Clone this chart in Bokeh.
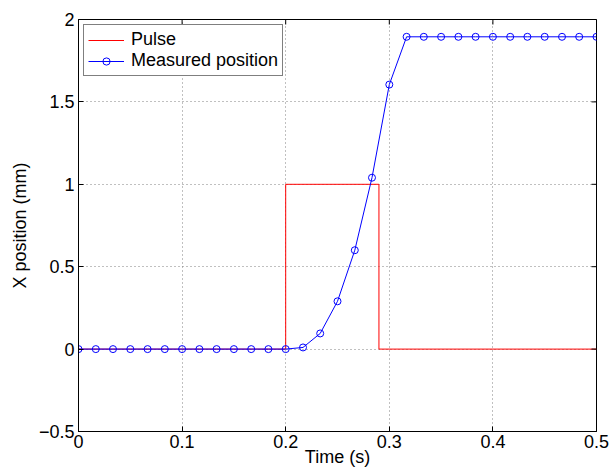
import math
from bokeh.plotting import figure
from bokeh.models import Range1d, FixedTicker, Legend, LegendItem
from bokeh.embed import file_html
from bokeh.resources import INLINE

# ---- data ----
t = [0.0, 0.0167, 0.0333, 0.05, 0.0667, 0.0833, 0.1, 0.1167, 0.1333, 0.15,
     0.1667, 0.1833, 0.2, 0.2167, 0.2333, 0.25, 0.2667, 0.2833, 0.3, 0.3167,
     0.3333, 0.35, 0.3667, 0.3833, 0.4, 0.4167, 0.4333, 0.45, 0.4667, 0.4833, 0.5]
position = [0, 0, 0, 0, 0, 0, 0, 0, 0, 0,
            0, 0, 0, 0.01, 0.095, 0.29, 0.60, 1.04, 1.605, 1.895,
            1.895, 1.895, 1.895, 1.895, 1.895, 1.895, 1.895, 1.895, 1.895, 1.895, 1.895]
pulse_t = [0.0, 0.2, 0.2, 0.29, 0.29, 0.5]
pulse_v = [0, 0, 1, 1, 0, 0]

x_ticks = [0, 0.1, 0.2, 0.3, 0.4, 0.5]
x_tick_labels = ["0", "0.1", "0.2", "0.3", "0.4", "0.5"]
y_ticks = [-0.5, 0, 0.5, 1, 1.5, 2]
y_tick_labels = ["\u22120.5", "0", "0.5", "1", "1.5", "2"]

FONT = "Liberation Sans"
FS = "18px"

p = figure(width=610, height=470, x_range=Range1d(0, 0.5), y_range=Range1d(-0.5, 2),
           output_backend="svg", toolbar_location=None,
           min_border_left=78, min_border_right=14, min_border_top=19, min_border_bottom=39)
p.background_fill_color = "white"
p.border_fill_color = "white"
p.outline_line_color = "black"
p.outline_line_width = 1

def style_axis(ax, ticks, labels):
    ax.ticker = FixedTicker(ticks=ticks)
    ax.major_tick_in = 5
    ax.major_tick_out = 0
    ax.minor_tick_line_color = None
    ax.axis_line_color = "black"
    ax.major_tick_line_color = "black"
    ax.major_label_overrides = {tk: lb for tk, lb in zip(ticks, labels)}
    ax.major_label_text_font = FONT
    ax.major_label_text_font_size = FS
    ax.major_label_text_color = "black"
    ax.axis_label_text_font = FONT
    ax.axis_label_text_font_size = FS
    ax.axis_label_text_font_style = "normal"
    ax.axis_label_text_color = "black"

style_axis(p.xaxis[0], x_ticks, x_tick_labels)
style_axis(p.yaxis[0], y_ticks, y_tick_labels)
p.xaxis[0].axis_label = "Time (s)"
p.yaxis[0].axis_label = "X position (mm)"
p.xaxis[0].major_label_standoff = 3
p.xaxis[0].axis_label_standoff = -4
p.yaxis[0].major_label_standoff = 4
p.yaxis[0].axis_label_standoff = 6

p.xgrid.ticker = FixedTicker(ticks=x_ticks)
p.ygrid.ticker = FixedTicker(ticks=y_ticks)
for g in (p.xgrid[0], p.ygrid[0]):
    g.grid_line_color = "#808080"
    g.grid_line_dash = "1 3"
    g.grid_line_width = 1

r_pulse = p.line(pulse_t, pulse_v, line_color="#ff0000", line_width=1)
r_pos_line = p.line(t, position, line_color="#0000ff", line_width=1)
r_pos_mark = p.scatter(t, position, marker="circle", size=7, line_color="#0000ff",
                       fill_color=None, line_width=1)

# inward tick marks on the top and right edges of the box (half of each dash is clipped)
x_top = [p.y_range.end] * len(x_ticks)
y_right = [p.x_range.end] * len(y_ticks)
p.scatter(x_ticks, x_top, marker="dash", size=10, angle=math.pi / 2,
          line_color="black", line_width=1)
p.scatter(y_right, y_ticks, marker="dash", size=10, angle=0,
          line_color="black", line_width=1)

legend = Legend(items=[LegendItem(label="Pulse", renderers=[r_pulse]),
                       LegendItem(label="Measured position", renderers=[r_pos_line, r_pos_mark])],
                location="top_left")
legend.margin = 5
legend.padding = 4
legend.spacing = 0
legend.glyph_width = 36
legend.glyph_height = 18
legend.label_standoff = 7
legend.label_text_font = FONT
legend.label_text_font_size = FS
legend.label_text_color = "black"
legend.border_line_color = "black"
legend.border_line_width = 1
legend.background_fill_color = "white"
legend.background_fill_alpha = 1
p.add_layout(legend)

open("out.html", "w").write(file_html(p, INLINE))
